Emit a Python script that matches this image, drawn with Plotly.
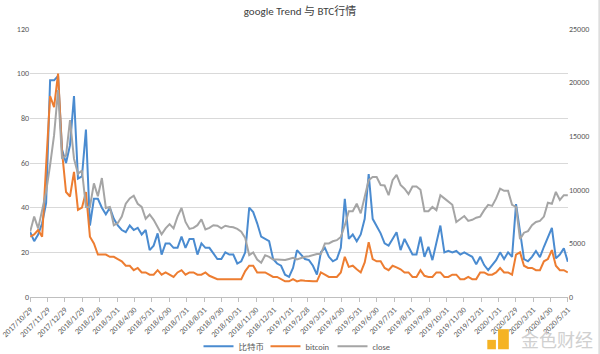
import pandas as pd
import plotly.graph_objects as go

# weekly dates (x categories)
dates = pd.date_range("2017-10-29", periods=136, freq="7D")

trend_cn = [29, 25, 28, 33, 42, 97, 97, 99, 66, 60,
            68, 90, 53, 54, 75, 32, 44, 44, 40, 37,
            40, 35, 32, 30, 29, 32, 30, 31, 28, 30,
            21, 23, 28.5, 19, 24, 24, 22, 22, 27, 22,
            26, 26, 19, 24, 22, 22, 19.5, 17, 17, 20,
            19, 19, 15, 16, 20, 40, 38, 33, 27, 26,
            25, 17, 15, 14, 10, 9, 13, 21, 19, 17,
            16.5, 14, 10, 20, 22, 18, 16, 17, 22, 44,
            26, 28, 25, 28, 35, 55, 35, 31.5, 28.5, 24,
            23, 26, 29, 21, 26, 22.5, 19, 19, 27, 18,
            22.5, 16.5, 25, 32, 20, 20.7, 20, 20.6, 19, 20,
            19, 18, 14.6, 18, 14.3, 12, 14.3, 16.5, 20, 17,
            20, 18, 41.6, 29, 17, 16, 18, 20.6, 17.8, 22.5,
            26.7, 31, 17.3, 19, 21.8, 15.8]

trend_en = [27, 28, 30, 27, 59, 90, 85, 100, 65, 47,
            45, 56, 39, 40, 47, 27, 24, 19, 19, 19,
            18, 18, 17, 16, 14, 14, 12, 13, 11, 11,
            10, 10, 12, 10, 11, 10, 9, 11, 12, 10,
            11, 11, 10, 10, 11, 9.5, 8.7, 8, 8, 8,
            8, 8, 8, 8, 11.6, 14, 14, 11, 11, 11,
            10, 9, 9, 8, 7, 7, 8, 7, 7.5, 7.3,
            7, 7, 7, 11, 10, 9, 9, 9, 11, 18,
            13.5, 14, 12.4, 11, 15.5, 24.5, 17, 16, 16, 13,
            12, 14, 13.3, 12.4, 11, 11, 9, 9, 12, 9.5,
            9, 9, 11, 11, 9, 9, 10, 10, 8, 8,
            9, 8, 8, 11, 11, 10, 10, 11, 13, 11,
            11, 10, 19, 20, 14, 13, 13, 12, 12, 16,
            17, 21, 14, 12, 12, 11]

close = [6100, 7500, 6400, 8100, 9800, 12300, 15100, 19300, 12900, 13200,
         16500, 12900, 11500, 11800, 8400, 8400, 10600, 9400, 11100, 8300,
         8400, 6700, 6900, 7500, 8700, 9200, 9450, 8700, 8400, 7300,
         7700, 7200, 6550, 5850, 6400, 6800, 6400, 7500, 8300, 7000,
         6350, 6450, 6700, 7250, 6300, 6450, 6700, 6650, 6400, 6650,
         6550, 6500, 6350, 6100, 5500, 3900, 4150, 3500, 3200, 3900,
         3750, 3500, 3500, 3450, 3450, 3550, 3650, 3500, 3650, 3750,
         3800, 3900, 4000, 4000, 5000, 5000, 5200, 5300, 5600, 6700,
         8000, 8000, 8700, 7800, 9500, 10900, 11200, 11200, 10450, 10400,
         9500, 10900, 11400, 10450, 10100, 9600, 10300, 10300, 10000, 8000,
         8000, 8400, 8100, 9500, 9200, 8900, 8600, 7000, 7300, 7550,
         7100, 7200, 7400, 7500, 8100, 8600, 8500, 9200, 10100, 9900,
         9900, 8600, 8400, 5400, 6000, 6150, 6700, 7000, 7100, 7500,
         8800, 8700, 9800, 9050, 9500, 9500]

tick_dates = ["2017-10-29", "2017-11-29", "2017-12-29", "2018-01-29", "2018-02-28",
              "2018-03-31", "2018-04-30", "2018-05-31", "2018-06-30", "2018-07-31",
              "2018-08-31", "2018-09-30", "2018-10-31", "2018-11-30", "2018-12-31",
              "2019-01-31", "2019-02-28", "2019-03-31", "2019-04-30", "2019-05-31",
              "2019-06-30", "2019-07-31", "2019-08-31", "2019-09-30", "2019-10-31",
              "2019-11-30", "2019-12-31", "2020-01-31", "2020-02-29", "2020-03-31",
              "2020-04-30", "2020-05-31"]
tick_labels = ["2017/10/29", "2017/11/29", "2017/12/29", "2018/1/29", "2018/2/28",
               "2018/3/31", "2018/4/30", "2018/5/31", "2018/6/30", "2018/7/31",
               "2018/8/31", "2018/9/30", "2018/10/31", "2018/11/30", "2018/12/31",
               "2019/1/31", "2019/2/28", "2019/3/31", "2019/4/30", "2019/5/31",
               "2019/6/30", "2019/7/31", "2019/8/31", "2019/9/30", "2019/10/31",
               "2019/11/30", "2019/12/31", "2020/1/31", "2020/2/29", "2020/3/31",
               "2020/4/30", "2020/5/31"]

FONT = "Calibri, 'Noto Sans CJK SC', 'Liberation Sans', sans-serif"
TXT = "#595959"

fig = go.Figure()
fig.add_trace(go.Scatter(x=dates, y=trend_cn, name="比特币", mode="lines",
                         line=dict(color="#4A8BD0", width=2)))
fig.add_trace(go.Scatter(x=dates, y=trend_en, name="bitcoin", mode="lines",
                         line=dict(color="#ED7D31", width=2)))
fig.add_trace(go.Scatter(x=dates, y=close, name="close", mode="lines", yaxis="y2",
                         line=dict(color="#A5A5A5", width=2)))

fig.update_layout(
    width=600, height=354,
    margin=dict(l=30, r=32, t=29, b=57, autoexpand=False),
    paper_bgcolor="white", plot_bgcolor="white",
    font=dict(family=FONT, size=9, color=TXT),
    title=dict(text="google Trend 与 BTC行情", x=0.5, xanchor="center",
               xref="container", yref="container", y=0.968, yanchor="middle",
               font=dict(size=11, color="#404040", family=FONT)),
    showlegend=True,
    legend=dict(orientation="h", x=0.5, xanchor="center",
                yref="container", y=0.022, yanchor="middle",
                font=dict(size=8.5, color=TXT), itemwidth=30, bgcolor="rgba(0,0,0,0)",
                tracegroupgap=0, entrywidth=22, entrywidthmode="pixels"),
    xaxis=dict(type="date", range=["2017-10-28 16:00", "2020-05-31 08:00"],
               tickmode="array", tickvals=tick_dates, ticktext=tick_labels,
               tickangle=-45, tickfont=dict(size=8, color=TXT),
               showgrid=False, showline=True, linecolor="#BFBFBF", linewidth=1,
               ticks="outside", ticklen=4, tickcolor="#BFBFBF", zeroline=False),
    yaxis=dict(range=[0, 120], dtick=20, showgrid=True, gridcolor="#D9D9D9", gridwidth=1,
               zeroline=False, showline=False, ticks="", tickfont=dict(size=8, color=TXT)),
    yaxis2=dict(range=[0, 25000], dtick=5000, overlaying="y", side="right",
                tickformat="d", showgrid=False, zeroline=False, showline=False,
                tickfont=dict(size=8, color=TXT)),
    hovermode=False,
)

# chart frame edge on the right (as in the screenshot)
fig.add_shape(type="line", xref="paper", yref="paper", x0=1.0578, x1=1.0578, y0=-0.3, y1=1.2,
              line=dict(color="#C8C8C8", width=1))

# watermark
fig.add_shape(type="rect", xref="paper", yref="paper", x0=0.870, x1=0.890, y0=-0.195, y1=-0.12,
              fillcolor="#F5B324", line=dict(width=0))
fig.add_shape(type="rect", xref="paper", yref="paper", x0=0.850, x1=0.866, y0=-0.195, y1=-0.16,
              fillcolor="#F5B324", line=dict(width=0))
fig.add_annotation(text="金色财经", xref="paper", yref="paper", x=1.05, y=-0.158,
                   xanchor="right", yanchor="middle", showarrow=False,
                   font=dict(size=18, color="#D0D0D0", family="'Noto Sans CJK SC', sans-serif"))

fig.write_html("out.html")
